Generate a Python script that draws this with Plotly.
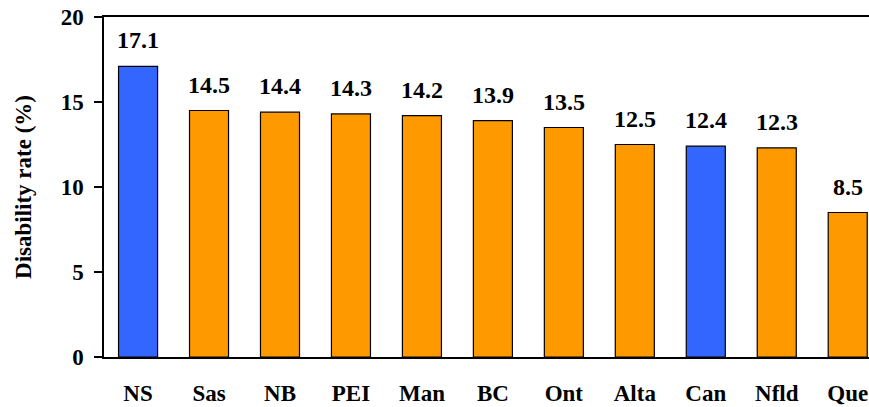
import plotly.graph_objects as go

regions = ["NS", "Sas", "NB", "PEI", "Man", "BC", "Ont", "Alta", "Can", "Nfld", "Que"]
rates = [17.1, 14.5, 14.4, 14.3, 14.2, 13.9, 13.5, 12.5, 12.4, 12.3, 8.5]
highlight = ["NS", "Can"]

BLUE = "#3366FF"
ORANGE = "#FF9900"
colors = [BLUE if r in highlight else ORANGE for r in regions]

FONT = "Liberation Serif, Times New Roman, serif"

fig = go.Figure()
fig.add_trace(go.Bar(
    x=regions, y=rates,
    marker=dict(color=colors, line=dict(color="black", width=1.2)),
    width=0.55,
    hoverinfo="x+y",
))

for r, v in zip(regions, rates):
    fig.add_annotation(x=r, y=v, text=f"{v:.1f}", showarrow=False,
                       yshift=26, font=dict(family=FONT, size=24, color="black", weight="bold"))

fig.update_layout(
    width=869, height=407,
    margin=dict(l=104, r=0, t=17, b=50),
    plot_bgcolor="white", paper_bgcolor="white",
    font=dict(family=FONT, size=23, color="black", weight="bold"),
    showlegend=False,
)
fig.update_xaxes(
    range=[-0.48, 10.3], automargin=False,
    showline=True, linecolor="black", linewidth=2, mirror=True,
    ticks="", showgrid=False, ticklabelstandoff=14,
    tickfont=dict(family=FONT, size=23, weight="bold"),
)
fig.update_yaxes(
    range=[0, 20], tickvals=[0, 5, 10, 15, 20], automargin=False,
    showline=True, linecolor="black", linewidth=1.5,
    ticks="outside", ticklen=8, tickwidth=1.5, tickcolor="black",
    showgrid=False, zeroline=False, ticklabelstandoff=6,
    tickfont=dict(family=FONT, size=23, weight="bold"),
    title=dict(text="Disability rate (%)", standoff=23,
               font=dict(family=FONT, size=23, weight="bold")),
)

fig.write_html("out.html", config={"displayModeBar": False},
               post_script="document.body.style.margin='0';document.body.style.overflow='hidden';")
